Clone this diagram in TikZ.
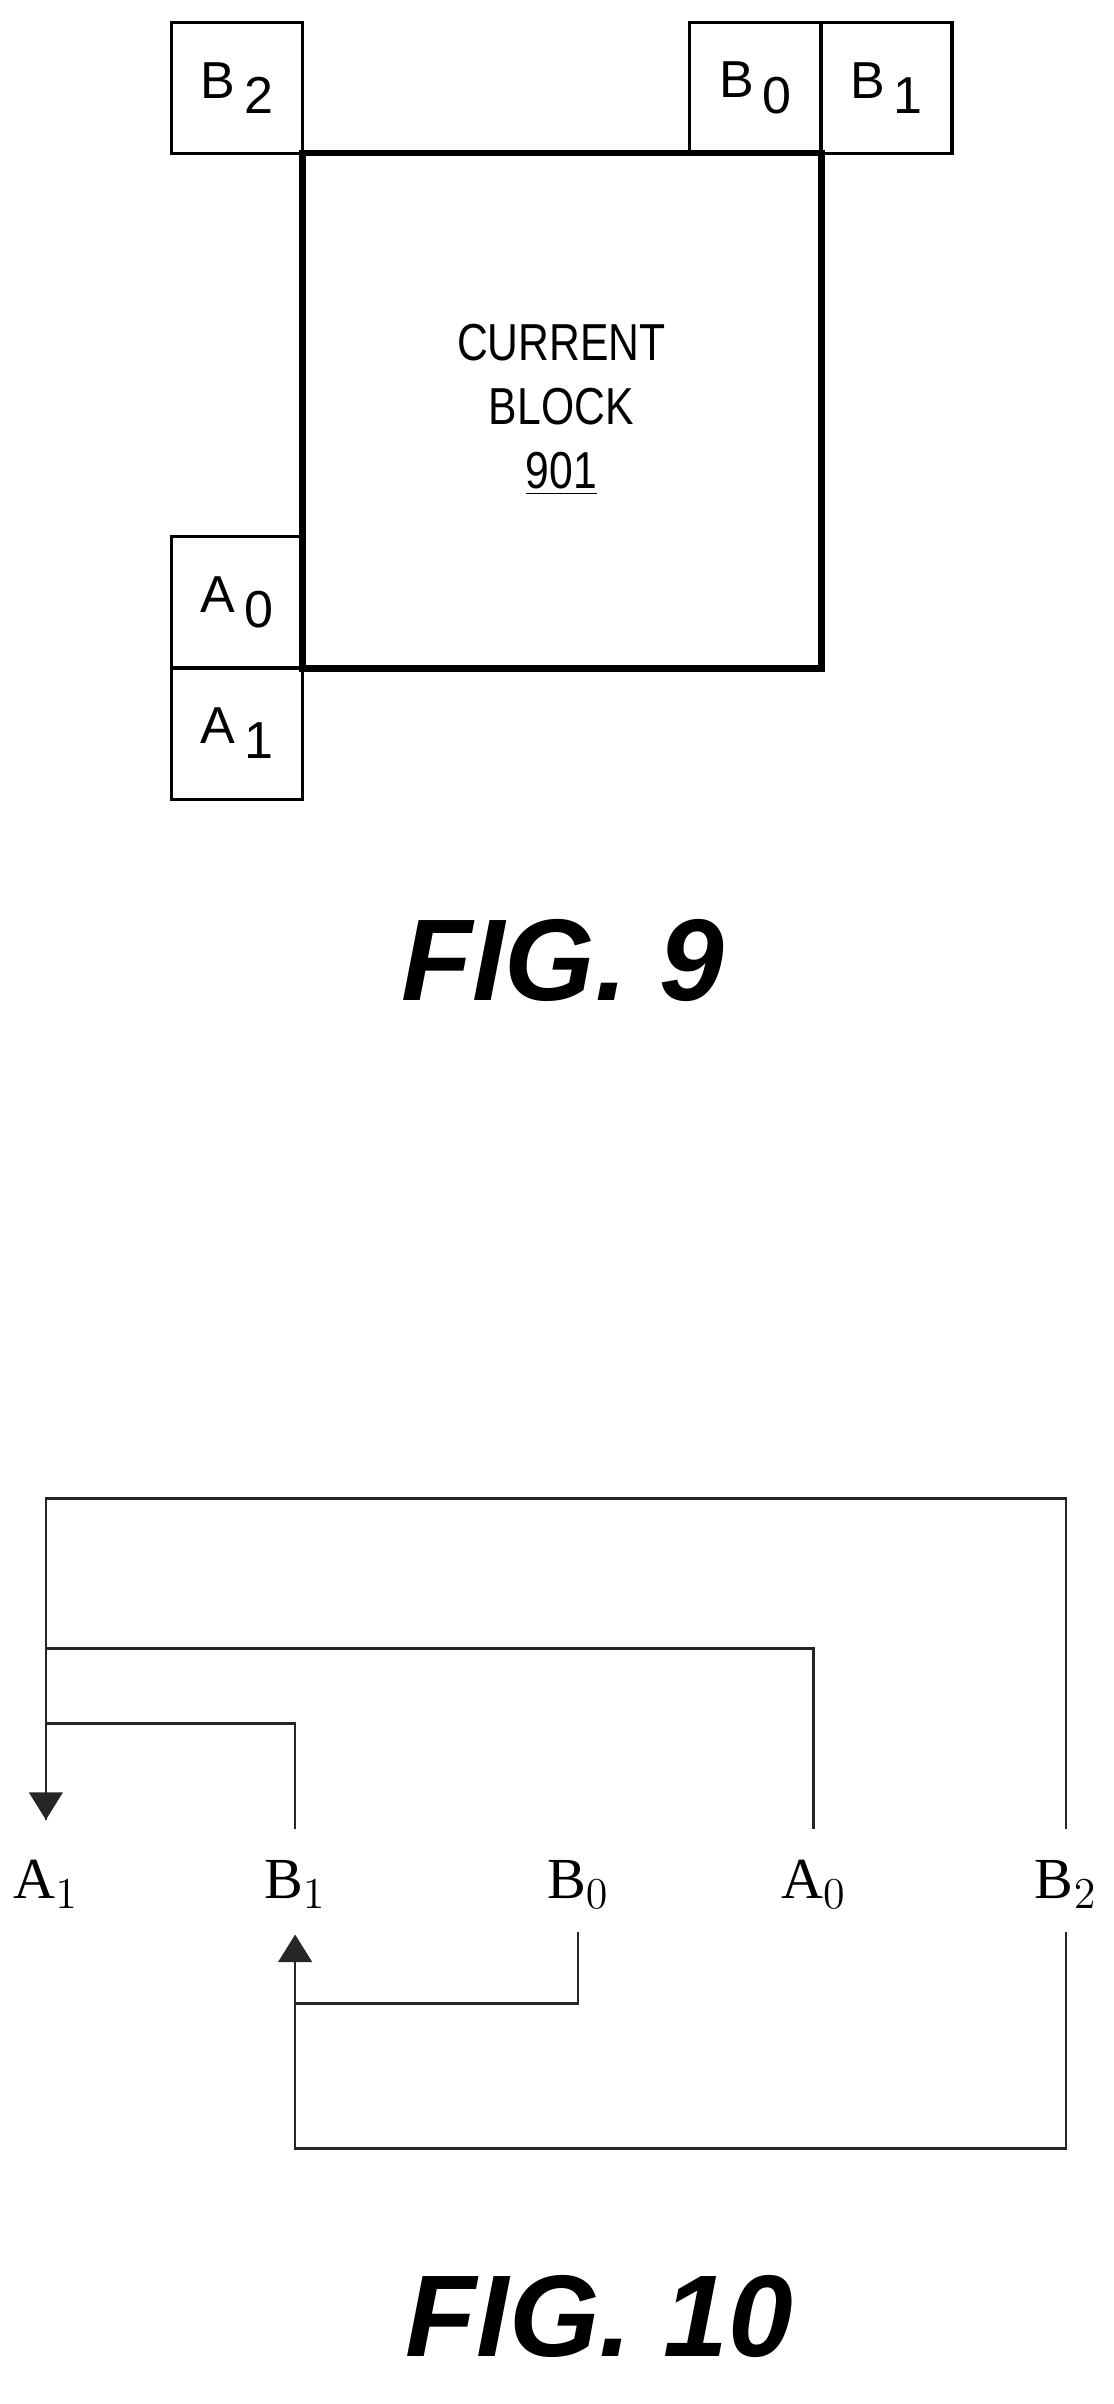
\documentclass[tikz,border=0pt]{standalone}
\usepackage{fontspec}
\setmainfont{Liberation Sans}
\newfontfamily\serifx{Liberation Serif}
\usetikzlibrary{arrows.meta}
\newcommand{\lowsub}[1]{\raisebox{-5pt}{#1}}
\tikzset{
	nbox/.style={draw,line width=1pt,minimum size=43pt,inner sep=0pt,font=\fontsize{17}{17}\selectfont},
	tag/.style={font=\serifx\fontsize{19}{19}\selectfont,inner sep=0pt},
	link/.style={draw=black!85,line width=0.8pt},
	figcap/.style={font=\bfseries\itshape\fontsize{38}{38}\selectfont}
}
\begin{document}
\begin{tikzpicture}[x=0.5pt,y=-0.5pt]
\useasboundingbox (0,0) rectangle (728,1572);
% FIG. 9
\draw[line width=2.2pt] (198,100) rectangle (537,437);
\node[align=center,font=\fontsize{17}{21}\selectfont,xscale=0.82] (cur) at (367,268) {CURRENT\\BLOCK\\\underline{901}};
\node[nbox] (B2) at (155,57.5) {B\,\lowsub{2}};
\node[nbox] (B0) at (494,57.5) {B\,\lowsub{0}};
\node[nbox] (B1) at (579.5,57.5) {B\,\lowsub{1}};
\node[nbox] (A0) at (155,394) {A\,\lowsub{0}};
\node[nbox] (A1) at (155,479.5) {A\,\lowsub{1}};
\node[figcap] (fig9) at (368,628) {FIG. 9};
% FIG. 10
\node[tag] (a1) at (30,1232) {A$_1$};
\node[tag] (b1) at (193,1232) {B$_1$};
\node[tag] (b0) at (378,1232) {B$_0$};
\node[tag] (a0) at (532,1232) {A$_0$};
\node[tag] (b2) at (697,1232) {B$_2$};
\coordinate (top) at (30,1190);
\coordinate (bot) at (193,1265);
\draw[link] (b2.north) ++(0,-20) |- (30,980) -- (top);
\draw[link] (a0.north) ++(0,-20) |- (30,1078);
\draw[link] (b1.north) ++(0,-20) |- (30,1127);
\draw[link,-{Triangle[width=11pt,length=9pt]}] (30,1127) -- (top);
\draw[link] (b0.south) ++(0,15) |- (193,1310);
\draw[link] (b2.south) ++(0,15) |- (193,1405) -- (193,1310);
\draw[link,-{Triangle[width=11pt,length=9pt]}] (193,1310) -- (bot);
\node[figcap] (fig10) at (392,1515) {FIG. 10};
\end{tikzpicture}
\end{document}
